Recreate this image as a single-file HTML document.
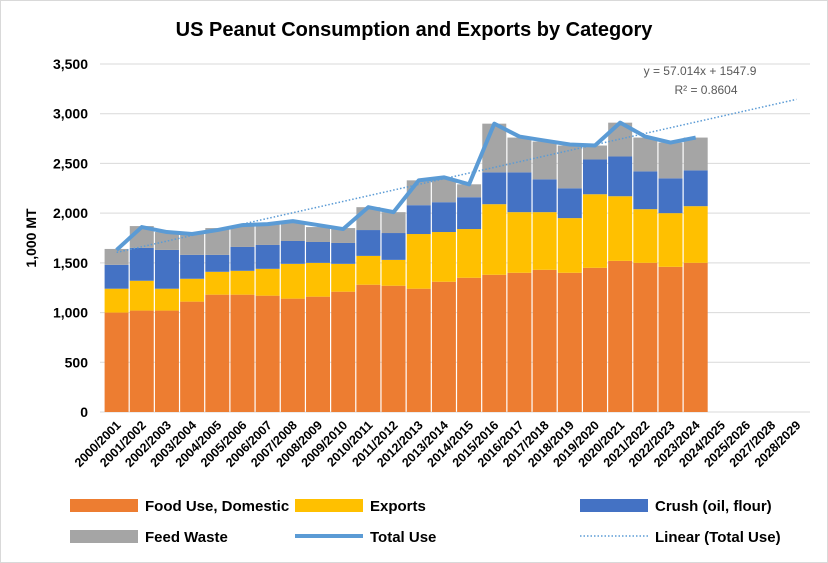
<!DOCTYPE html>
<html><head><meta charset="utf-8"><style>
body{margin:0;background:#fff;}
svg{display:block;font-family:"Liberation Sans",sans-serif;}
</style></head><body>
<svg id="chart" width="828" height="563">
<rect x="0.5" y="0.5" width="827" height="562" fill="#fff" stroke="#d9d9d9"/>
<text x="414" y="36" text-anchor="middle" font-size="20" font-weight="bold" fill="#000">US Peanut Consumption  and Exports by Category</text>
<text transform="translate(36,238) rotate(-90)" text-anchor="middle" font-size="14" font-weight="bold">1,000 MT</text>
<g id="grid"></g><g id="bars"></g><g id="lines"></g><g id="xlabels"></g>
<text x="700" y="75" text-anchor="middle" font-size="12" fill="#595959">y = 57.014x  + 1547.9</text>
<text x="706" y="94" text-anchor="middle" font-size="12" fill="#595959">R² = 0.8604</text>
<g font-size="15" font-weight="bold">
<rect x="70" y="499" width="68" height="13" fill="#ED7D31"/>
<text x="145" y="511">Food Use, Domestic</text>
<rect x="295" y="499" width="68" height="13" fill="#FFC000"/>
<text x="370" y="511">Exports</text>
<rect x="580" y="499" width="68" height="13" fill="#4472C4"/>
<text x="655" y="511">Crush (oil, flour)</text>
<rect x="70" y="530" width="68" height="13" fill="#A5A5A5"/>
<text x="145" y="542">Feed Waste</text>
<line x1="295" y1="536" x2="363" y2="536" stroke="#5B9BD5" stroke-width="4"/>
<text x="370" y="542">Total Use</text>
<line x1="580" y1="536" x2="648" y2="536" stroke="#5B9BD5" stroke-width="1.5" stroke-dasharray="1.5,2"/>
<text x="655" y="542">Linear (Total Use)</text>
</g>
</svg>
<script>
const categories=["2000/2001","2001/2002","2002/2003","2003/2004","2004/2005","2005/2006","2006/2007","2007/2008","2008/2009","2009/2010","2010/2011","2011/2012","2012/2013","2013/2014","2014/2015","2015/2016","2016/2017","2017/2018","2018/2019","2019/2020","2020/2021","2021/2022","2022/2023","2023/2024","2024/2025","2025/2026","2027/2028","2028/2029"];
const food=[1000,1020,1020,1110,1180,1180,1170,1140,1160,1210,1280,1270,1240,1310,1350,1380,1400,1430,1400,1450,1520,1500,1460,1500];
const exportsVals=[240,300,220,230,230,240,270,350,340,280,290,260,550,500,490,710,610,580,550,740,650,540,540,570];
const crush=[240,330,390,240,170,240,240,230,210,210,260,270,290,300,320,320,400,330,300,350,400,380,350,360];
const feed=[160,220,180,210,270,210,210,190,150,150,230,210,250,230,130,490,350,380,430,140,340,340,360,330];
const totalUse=[1630,1860,1810,1790,1830,1880,1890,1920,1880,1840,2060,2010,2330,2360,2290,2900,2770,2730,2690,2680,2910,2770,2710,2760];
const yTicks=[0,500,1000,1500,2000,2500,3000,3500];
const trendSlope=57.014, trendIntercept=1547.9;

const NS="http://www.w3.org/2000/svg";
const X0=104,X1=809,Y0=412,YMAX=64,VMAX=3500;
const step=(X1-X0)/categories.length;
const y=v=>Y0-(v/VMAX)*(Y0-YMAX);
const xc=i=>X0+step*(i+0.5);
function mk(tag,attrs,parent){const e=document.createElementNS(NS,tag);for(const k in attrs)e.setAttribute(k,attrs[k]);parent.appendChild(e);return e;}
const grid=document.getElementById('grid');
yTicks.forEach(t=>{
  const l=mk('line',{x1:X0-4,x2:X1+1,y1:y(t),y2:y(t),stroke:'#d9d9d9','stroke-width':1},grid);
  
  
  const tx=mk('text',{x:88,y:y(t)+5,'text-anchor':'end','font-size':14,'font-weight':'bold'},grid);
  tx.textContent=t.toLocaleString('en-US');
  
  
});
const bars=document.getElementById('bars');
const series=[[food,'#ED7D31','food'],[exportsVals,'#FFC000','exports'],[crush,'#4472C4','crush'],[feed,'#A5A5A5','feed']];
food.forEach((_,i)=>{
  let base=0;
  series.forEach(([arr,col,nm])=>{
    const v=arr[i];
    const r=mk('rect',{x:X0+step*i+0.6,width:step-1.2,y:y(base+v),height:y(base)-y(base+v),fill:col},bars);
    
    
    base+=v;
  });
});
const lines=document.getElementById('lines');
const tp=mk('line',{x1:xc(0),y1:y(trendSlope*1+trendIntercept),x2:xc(categories.length-1),y2:y(trendSlope*categories.length+trendIntercept),stroke:'#5B9BD5','stroke-width':1.5,'stroke-dasharray':'1.5,2'},lines);


const pl=mk('polyline',{points:totalUse.map((v,i)=>xc(i)+','+y(v)).join(' '),fill:'none',stroke:'#5B9BD5','stroke-width':4,'stroke-linejoin':'round'},lines);


const xl=document.getElementById('xlabels');
categories.forEach((c,i)=>{
  const t=mk('text',{transform:`translate(${xc(i)+5},${Y0+14}) rotate(-45)`,'text-anchor':'end','font-size':12.5,'font-weight':'bold'},xl);
  t.textContent=c;
  
  
});
</script>
</body></html>
